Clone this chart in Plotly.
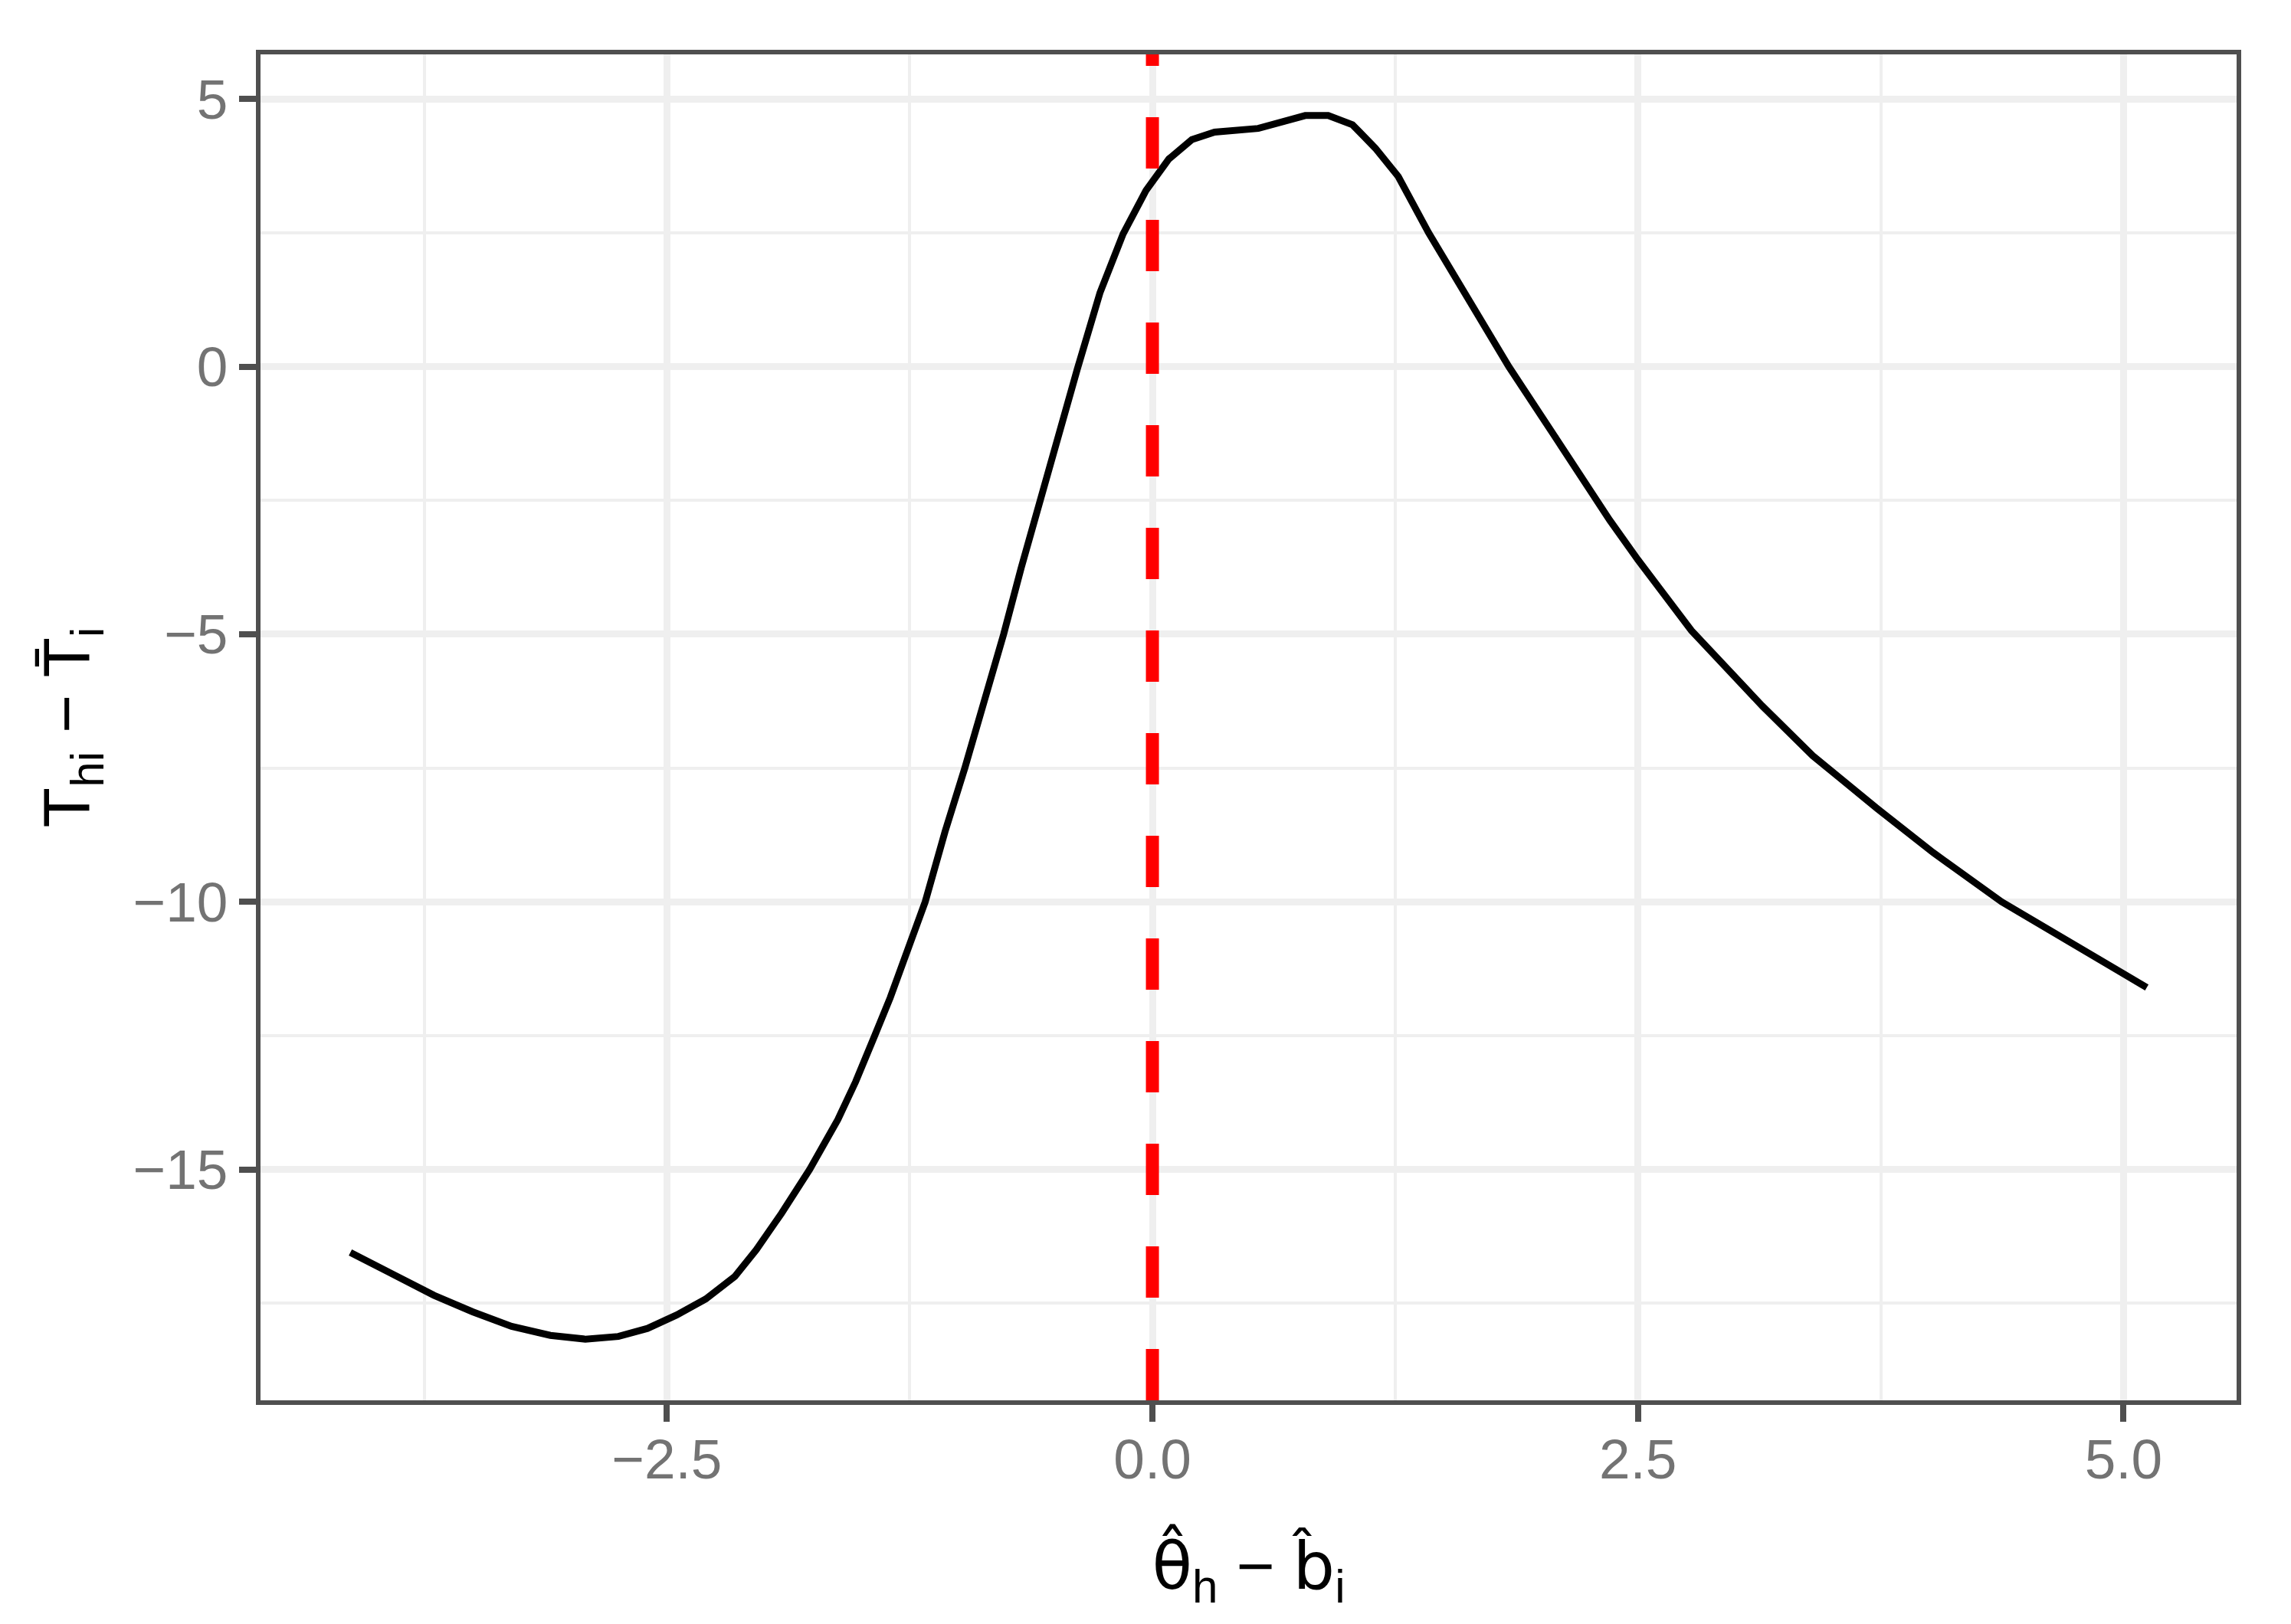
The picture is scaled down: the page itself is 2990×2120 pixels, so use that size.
import plotly.graph_objects as go

# ---- data ----
x_vals = [-4.13, -3.9, -3.7, -3.5, -3.3, -3.1, -2.92, -2.75, -2.6, -2.45, -2.3, -2.15,
          -2.04, -1.91, -1.765, -1.62, -1.528, -1.43, -1.35, -1.17, -1.068, -0.966,
          -0.883, -0.766, -0.675, -0.58, -0.482, -0.387, -0.27, -0.151, -0.033, 0.085,
          0.203, 0.32, 0.545, 0.787, 0.905, 1.03, 1.148, 1.266, 1.422, 1.62,
          1.835, 2.08, 2.355, 2.5, 2.775, 3.14, 3.40, 3.733, 4.02, 4.373, 4.727, 5.12]
y_vals = [-16.55, -16.98, -17.35, -17.66, -17.93, -18.1, -18.17, -18.12, -17.97, -17.72,
          -17.42, -17.0, -16.5, -15.82, -15.0, -14.07, -13.36, -12.5, -11.79, -10.0,
          -8.69, -7.5, -6.48, -5.0, -3.75, -2.5, -1.23, -0.05, 1.38, 2.48, 3.29, 3.88,
          4.24, 4.38, 4.45, 4.69, 4.69, 4.52, 4.08, 3.55, 2.5, 1.32, 0.0, -1.35,
          -2.87, -3.61, -4.93, -6.34, -7.27, -8.26, -9.08, -10.0, -10.76, -11.6]
vline_x = 0.0

x_tickvals = [-2.5, 0.0, 2.5, 5.0]
x_ticktext = ["\u22122.5", "0.0", "2.5", "5.0"]
y_tickvals = [-15, -10, -5, 0, 5]
y_ticktext = ["\u221215", "\u221210", "\u22125", "0", "5"]

x_title = ("<span style=\"font-family:'DejaVu Sans'\">\u03b8\u0302</span><sub>h</sub>"
           " \u2212 <span style=\"font-family:'DejaVu Sans'\">b\u0302</span><sub>i</sub>")
y_title = "T<sub>hi</sub> \u2212 T\u0304<sub>i</sub>"

# ggplot-style 5% expansion
def expand(vals, f=0.05):
    lo, hi = min(vals), max(vals)
    d = (hi - lo) * f
    return [lo - d, hi + d]

x_range = expand(x_vals)
y_range = expand(y_vals)

BORDER = "#4f4f4f"
TICKTXT = "#737373"
GRID = "#efefef"
FONT = "Liberation Sans, Arial, sans-serif"

fig = go.Figure()
fig.add_trace(go.Scatter(x=x_vals, y=y_vals, mode="lines",
                         line=dict(color="black", width=9), showlegend=False,
                         hoverinfo="skip"))

fig.add_shape(type="line", xref="x", yref="paper", x0=vline_x, x1=vline_x, y0=0, y1=1,
              line=dict(color="#ff0000", width=17, dash="67px,67px"), layer="above")

axis_common = dict(
    showline=True, linecolor=BORDER, linewidth=6, mirror=True,
    ticks="outside", ticklen=22, tickwidth=8, tickcolor=BORDER,
    showgrid=True, gridcolor=GRID, gridwidth=8.7,
    zeroline=False,
    tickfont=dict(family=FONT, size=73, color=TICKTXT),
)

fig.update_xaxes(
    range=x_range, tickvals=x_tickvals, ticktext=x_ticktext,
    minor=dict(dtick=1.25, tick0=0, showgrid=True, gridcolor=GRID, gridwidth=4.4, ticks=""),
    title=dict(text=x_title, font=dict(family=FONT, size=86, color="black"), standoff=72),
    ticklabelstandoff=-14,
    **axis_common)
fig.update_yaxes(
    range=y_range, tickvals=y_tickvals, ticktext=y_ticktext,
    minor=dict(dtick=2.5, tick0=0, showgrid=True, gridcolor=GRID, gridwidth=4.4, ticks=""),
    title=dict(text=y_title, font=dict(family=FONT, size=86, color="black"), standoff=30),
    **axis_common)

fig.update_layout(
    width=2990, height=2120,
    margin=dict(l=340, r=71, t=71, b=292, autoexpand=False),
    plot_bgcolor="white", paper_bgcolor="white",
    font=dict(family=FONT),
)

fig.write_html("out.html", config={"displayModeBar": False},
               post_script="document.body.style.margin='0';")
